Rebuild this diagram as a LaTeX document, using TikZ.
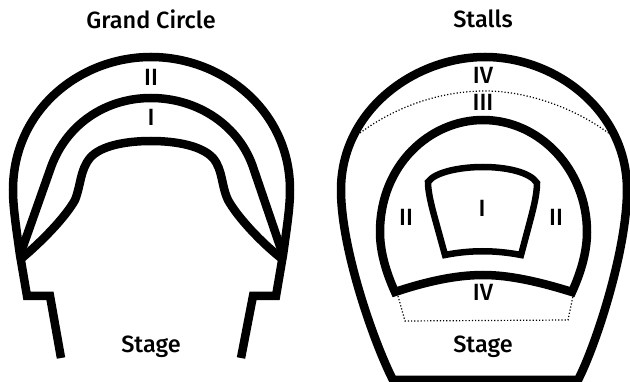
\documentclass[tikz,border=0pt]{standalone}
\usepackage{fontspec}
\setmainfont{Fira Sans}[UprightFont=* Medium]
\begin{document}
\begin{tikzpicture}
  [x=1pt,y=-1pt,wall/.style={line width=8.5pt,line join=miter},
   thin wall/.style={line width=6.5pt,line join=miter},
   limit/.style={line width=1.2pt,dotted},
   every node/.style={font=\fontsize{23.5}{26}\selectfont,inner sep=0pt}]
  \useasboundingbox (0,0) rectangle (630,382);
  % grand circle
  \draw[wall] (61,358) -- (50,296) -- (27,296) -- (20,255)
    .. controls (15,220) and (13,205) .. (13,190)
    .. controls (13,110) and (80,57) .. (151,57)
    .. controls (222,57) and (290,110) .. (290,190)
    .. controls (290,205) and (288,220) .. (283,255)
    -- (276,296) -- (253,296) -- (241,358);
  \draw[wall] (20,255) -- (50,170)
    .. controls (65,125) and (105,98) .. (151,98)
    .. controls (197,98) and (240,125) .. (254,170) -- (283,255);
  \draw[wall] (22,258) .. controls (40,243) and (65,218) .. (75,200)
    .. controls (81,185) and (80,170) .. (90,158)
    .. controls (100,146) and (125,141) .. (151,141)
    .. controls (177,141) and (202,146) .. (213,158)
    .. controls (223,170) and (221,185) .. (228,200)
    .. controls (238,218) and (262,243) .. (281,258);
  % stalls
  \draw[wall] (393,380) .. controls (375,345) and (341,250) .. (341,190)
    .. controls (341,110) and (415,57) .. (485,57)
    .. controls (555,57) and (627,110) .. (627,190)
    .. controls (627,250) and (596,345) .. (578,380) -- cycle;
  \draw[limit] (360,133) .. controls (395,107) and (440,91) .. (485,91)
    .. controls (530,91) and (580,110) .. (615,138);
  \draw[wall] (395,292) .. controls (385,270) and (380,250) .. (380,232)
    .. controls (380,165) and (430,120) .. (483,120)
    .. controls (540,120) and (587,170) .. (587,232)
    .. controls (587,250) and (582,270) .. (572,292)
    .. controls (540,282) and (510,275) .. (483,275)
    .. controls (455,275) and (425,282) .. (395,292) -- cycle;
  \draw[thin wall] (445,255) -- (434,215)
    .. controls (430,200) and (428,190) .. (428,182)
    .. controls (435,172) and (460,167) .. (483,167)
    .. controls (506,167) and (530,172) .. (537,183)
    .. controls (537,195) and (533,210) .. (529,225) -- (521,255)
    .. controls (495,250) and (470,250) .. (445,255) -- cycle;
  \draw[limit] (398,296) -- (405,321) -- (568,320) -- (573,296);
  % labels
  \foreach \name/\xpos/\ypos/\lab in {tcircle/151/19/Grand Circle,tstalls/483/19/Stalls,
      gii/151/77/II,gi/151/117/I,gstage/151/347/Stage,
      siva/483/75/IV,siii/483/102/III,si/482/208/I,siil/406/217/II,siir/556/217/II,
      sivb/483/292/IV,sstage/483/347/Stage}
    \node (\name) at (\xpos,\ypos) {\lab};
\end{tikzpicture}
\end{document}
